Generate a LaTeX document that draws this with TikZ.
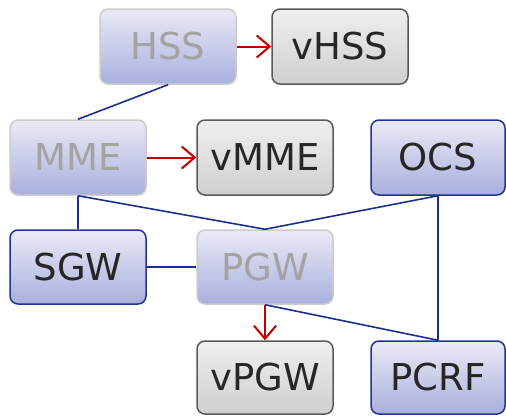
\documentclass[tikz,border=0pt]{standalone}
\usepackage{fontspec}
\setmainfont{DejaVu Sans}
\usetikzlibrary{arrows.meta}
\definecolor{linkblue}{HTML}{1B2F8C}
\definecolor{boxblue}{HTML}{1F3590}
\definecolor{shadetop}{HTML}{EAEAF6}
\definecolor{shadebot}{HTML}{A9AFDD}
\definecolor{greytop}{HTML}{EFEFEF}
\definecolor{greybot}{HTML}{CFCFCF}
\definecolor{virtred}{HTML}{C00000}
\tikzset{
  box/.style={rectangle, rounded corners=8pt, inner sep=0pt,
    minimum width=136pt, minimum height=75pt, line width=1.5pt,
    font=\fontsize{37}{40}\selectfont},
  funcbox/.style={box, draw=boxblue, top color=shadetop, bottom color=shadebot, text=black!85},
  fadedbox/.style={box, draw=black!20, top color=shadetop, bottom color=shadebot, text=black!36},
  virtbox/.style={box, draw=black!65, top color=greytop, bottom color=greybot, text=black!85},
  link/.style={draw=linkblue, line width=1.6pt},
  virtarrow/.style={draw=virtred, line width=2pt, -{Straight Barb[length=13pt,width=22pt,line width=2pt]}}
}
\begin{document}
\begin{tikzpicture}[x=1pt,y=-1pt]
  \useasboundingbox (0,0) rectangle (506,415);
  % network functions
  \node[fadedbox] (hss)  at (168,46.5) {HSS};
  \node[virtbox]  (vhss) at (340,46.5) {vHSS};
  \node[fadedbox] (mme)  at (78,157.5) {MME};
  \node[virtbox]  (vmme) at (265,157.5) {vMME};
  \node[funcbox, minimum width=134pt] (ocs) at (438,157.5) {OCS};
  \node[funcbox, minimum height=74pt] (sgw) at (78,267) {SGW};
  \node[fadedbox, minimum height=74pt] (pgw) at (265,267) {PGW};
  \node[virtbox, minimum height=73pt] (vpgw) at (265,377.5) {vPGW};
  \node[funcbox, minimum width=134pt, minimum height=73pt] (pcrf) at (438,377.5) {PCRF};
  % interfaces
  \draw[link] (hss.south) -- (mme.north);
  \draw[link] (mme.south) -- (sgw.north);
  \draw[link] (mme.south) -- (pgw.north);
  \draw[link] (ocs.south) -- (pgw.north);
  \draw[link] (ocs.south) -- (pcrf.north);
  \draw[link] (sgw.east) -- (pgw.west);
  \draw[link] (pgw.south) -- (pcrf.north);
  % virtualisation
  \draw[virtarrow] (hss.east) -- (vhss.west);
  \draw[virtarrow] (mme.east) -- (vmme.west);
  \draw[virtarrow] (pgw.south) -- (vpgw.north);
\end{tikzpicture}
\end{document}
